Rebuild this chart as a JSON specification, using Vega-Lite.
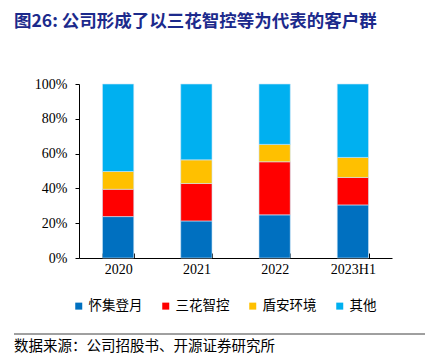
{
  "$schema": "https://vega.github.io/schema/vega-lite/v6.json",
  "padding": {"left": 13, "top": 12, "right": 7, "bottom": 0},
  "background": "white",
  "title": {"text": "图26:  公司形成了以三花智控等为代表的客户群", "anchor": "start", "font": "Noto Sans CJK SC", "fontSize": 17.5, "fontWeight": "bold", "color": "#1C2A8C", "offset": 47, "frame": "group", "dx": -65},
  "config": {"view": {"stroke": null}, "concat": {"spacing": 57}},
  "vconcat": [
    {
      "width": 313,
      "height": 174,
      "data": {"values": [
        {"year": "2020", "cust": "怀集登月", "v": 23.8, "o": 1},
        {"year": "2020", "cust": "三花智控", "v": 15.7, "o": 2},
        {"year": "2020", "cust": "盾安环境", "v": 10.2, "o": 3},
        {"year": "2020", "cust": "其他", "v": 50.3, "o": 4},
        {"year": "2021", "cust": "怀集登月", "v": 21.3, "o": 1},
        {"year": "2021", "cust": "三花智控", "v": 21.5, "o": 2},
        {"year": "2021", "cust": "盾安环境", "v": 13.6, "o": 3},
        {"year": "2021", "cust": "其他", "v": 43.6, "o": 4},
        {"year": "2022", "cust": "怀集登月", "v": 24.8, "o": 1},
        {"year": "2022", "cust": "三花智控", "v": 30.5, "o": 2},
        {"year": "2022", "cust": "盾安环境", "v": 10.0, "o": 3},
        {"year": "2022", "cust": "其他", "v": 34.7, "o": 4},
        {"year": "2023H1", "cust": "怀集登月", "v": 30.5, "o": 1},
        {"year": "2023H1", "cust": "三花智控", "v": 15.8, "o": 2},
        {"year": "2023H1", "cust": "盾安环境", "v": 11.5, "o": 3},
        {"year": "2023H1", "cust": "其他", "v": 42.2, "o": 4}
      ]},
      "mark": {"type": "bar", "stroke": "#CFE6F7", "strokeWidth": 0.6},
      "encoding": {
        "x": {"field": "year", "type": "nominal", "sort": null, "scale": {"paddingInner": 0.6, "paddingOuter": 0.3},
          "axis": {"title": null, "labelAngle": 0, "labelFont": "Liberation Serif", "labelFontSize": 14, "labelColor": "#000", "labelPadding": 9, "domainColor": "#000", "domainWidth": 1, "tickBand": "extent", "tickSize": -5, "tickColor": "#000", "labelAlign": "center"}},
        "y": {"field": "v", "type": "quantitative", "stack": "zero", "scale": {"domain": [0, 100]},
          "axis": {"title": null, "values": [0, 20, 40, 60, 80, 100], "labelExpr": "datum.value + '%'", "labelFont": "Liberation Serif", "labelFontSize": 14, "labelColor": "#000", "grid": false, "domainColor": "#000", "tickColor": "#000", "tickSize": 4, "labelPadding": 8, "minExtent": 65}},
        "color": {"field": "cust", "type": "nominal", "sort": ["怀集登月", "三花智控", "盾安环境", "其他"],
          "scale": {"domain": ["怀集登月", "三花智控", "盾安环境", "其他"], "range": ["#0070C0", "#FF0000", "#FFC000", "#00B0F0"]},
          "legend": {"title": null, "orient": "none", "direction": "horizontal", "legendX": -7, "legendY": 215, "symbolType": "square", "symbolSize": 49, "symbolStrokeWidth": 0, "labelFont": "Noto Sans CJK SC", "labelFontSize": 13.5, "labelColor": "#000", "labelOffset": 3, "columnPadding": 16}},
        "order": {"field": "o", "type": "quantitative"}
      }
    },
    {
      "width": 313,
      "height": 20,
      "data": {"values": [{"src": "数据来源：公司招股书、开源证券研究所"}]},
      "layer": [
        {"mark": {"type": "rule", "color": "#404040", "strokeWidth": 1},
         "encoding": {"x": {"datum": 0, "scale": {"domain": [0, 1], "range": [-65, 346]}, "axis": null}, "x2": {"datum": 1}, "y": {"datum": 1, "scale": {"domain": [0, 1]}, "axis": null}}},
        {"mark": {"type": "text", "align": "left", "baseline": "middle", "font": "Noto Sans CJK SC", "fontSize": 14.5, "color": "#000"},
         "encoding": {"text": {"field": "src"}, "x": {"datum": 0, "scale": {"domain": [0, 1], "range": [-65, 346]}, "axis": null}, "y": {"datum": 0.35, "scale": {"domain": [0, 1]}, "axis": null}}}
      ]
    }
  ]
}
